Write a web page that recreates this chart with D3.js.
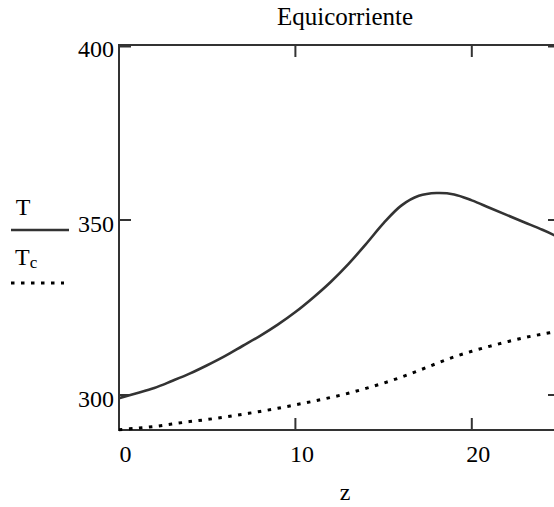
<!DOCTYPE html>
<html>
<head>
<meta charset="utf-8">
<script src="https://cdn.jsdelivr.net/npm/d3@7"></script>
<style>
  html, body { margin: 0; padding: 0; background: #fff; }
  svg { display: block; }
  svg text, svg tspan { font-family: "Liberation Serif", "Tinos", "Times New Roman" !important; }
</style>
</head>
<body>
<svg id="chart" width="554" height="507"></svg>
<script>
// ---- data ----
const title = "Equicorriente";
const xLabel = "z";
const zValues = [0,1,2,3,4,5,6,7,8,9,10,11,12,13,14,15,16,17,18,19,20,21,22,23,24,25];
const T  = [299.1,300.5,302.0,304.0,306.1,308.5,311.1,314.0,316.9,320.1,323.7,327.8,332.3,337.4,343.1,349.1,354.1,356.9,357.7,357.3,355.6,353.5,351.4,349.3,347.2,344.9];
const Tc = [290.1,290.5,291.0,291.7,292.4,293.0,293.7,294.5,295.3,296.2,297.2,298.2,299.3,300.5,301.9,303.4,305.1,307.0,309.0,310.9,312.5,313.9,315.2,316.4,317.4,318.3];
const xTicks = [0, 10, 20];
const yTicks = [300, 350, 400];
const xDomain = [0, 25];
const yDomain = [290, 400];

// ---- layout ----
const svg = d3.select("#chart");
const pLeft = 119, pRight = 560, pTop = 45, pBottom = 430;
const x = d3.scaleLinear().domain(xDomain).range([pLeft, pRight]);
const y = d3.scaleLinear().domain(yDomain).range([pBottom, pTop]);
const axisColor = "#333";
const tickLen = 12;
const fs = 24;

function txt(sel, size) {
  return sel.append("text")
    .attr("font-family", "Liberation Serif")
    .style("font-family", '"Liberation Serif"')
    .attr("font-size", size).attr("fill", "#000");
}

// frame
svg.append("rect")
  .attr("x", pLeft).attr("y", pTop)
  .attr("width", pRight - pLeft).attr("height", pBottom - pTop)
  .attr("fill", "none").attr("stroke", axisColor).attr("stroke-width", 2);

// x ticks (bottom & top, inward)
const gx = svg.append("g");
xTicks.forEach(t => {
  if (t !== xDomain[0]) {
    gx.append("line").attr("x1", x(t)).attr("x2", x(t)).attr("y1", pBottom).attr("y2", pBottom - tickLen)
      .attr("stroke", axisColor).attr("stroke-width", 2);
    gx.append("line").attr("x1", x(t)).attr("x2", x(t)).attr("y1", pTop).attr("y2", pTop + tickLen)
      .attr("stroke", axisColor).attr("stroke-width", 2);
  }
  txt(gx, fs).attr("x", x(t) + 6.5).attr("y", 462).attr("text-anchor", "middle").text(t);
});

// y ticks (left & right, inward)
const gy = svg.append("g");
yTicks.forEach(t => {
  const thick = t === yDomain[1];
  const yy = y(t) + (thick ? 1 : 0);
  gy.append("line").attr("x1", pLeft).attr("x2", pLeft + tickLen).attr("y1", yy).attr("y2", yy)
    .attr("stroke", axisColor).attr("stroke-width", thick ? 3 : 2);
  gy.append("line").attr("x1", pRight).attr("x2", pRight - tickLen).attr("y1", yy).attr("y2", yy)
    .attr("stroke", axisColor).attr("stroke-width", thick ? 3 : 2);
  txt(gy, fs).attr("x", 114).attr("y", y(t) + 12).attr("text-anchor", "end").text(t);
});

// clip
svg.append("clipPath").attr("id", "plotclip")
  .append("rect").attr("x", pLeft).attr("y", pTop - 2).attr("width", pRight - pLeft).attr("height", pBottom - pTop + 4);

const lineGen = arr => d3.line()
  .x((d, i) => x(zValues[i]))
  .y(d => y(d))
  .curve(d3.curveCatmullRom.alpha(0.5))(arr);

svg.append("path").attr("d", lineGen(T))
  .attr("fill", "none").attr("stroke", "#333").attr("stroke-width", 2.6)
  .attr("clip-path", "url(#plotclip)");

svg.append("path").attr("d", lineGen(Tc))
  .attr("fill", "none").attr("stroke", "#000").attr("stroke-width", 3)
  .attr("stroke-dasharray", "3.5,6.5")
  .attr("clip-path", "url(#plotclip)");

// title & x label
txt(svg, 25).attr("x", 345).attr("y", 25).attr("text-anchor", "middle").text(title);
txt(svg, fs).attr("x", 345).attr("y", 500).attr("text-anchor", "middle").text(xLabel);

// legend
txt(svg, fs).attr("x", 23).attr("y", 215).attr("text-anchor", "middle").text("T");
svg.append("line").attr("x1", 11).attr("x2", 69).attr("y1", 230).attr("y2", 230)
  .attr("stroke", "#333").attr("stroke-width", 2.6);
const tc = txt(svg, fs).attr("x", 15).attr("y", 265);
tc.append("tspan").text("T");
tc.append("tspan").attr("font-size", 17).attr("dy", 3).text("c");
svg.append("line").attr("x1", 11).attr("x2", 64).attr("y1", 283).attr("y2", 283)
  .attr("stroke", "#000").attr("stroke-width", 3).attr("stroke-dasharray", "3.5,6.5");
</script>
</body>
</html>
